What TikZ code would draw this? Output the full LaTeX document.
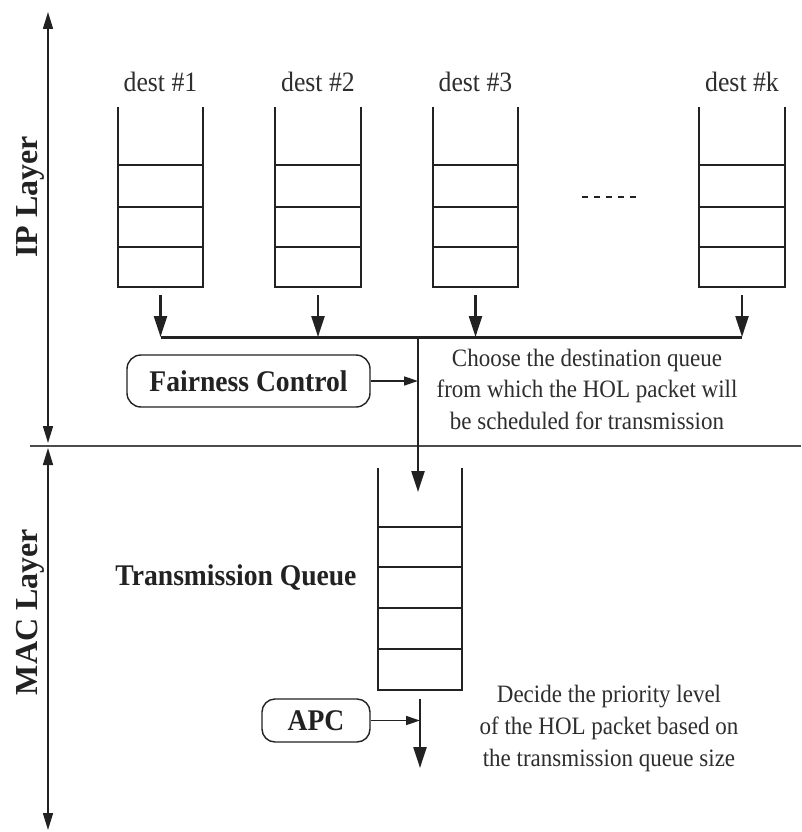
\documentclass[tikz,border=0pt]{standalone}
\usepackage{fontspec}
\setmainfont[FakeStretch=0.92]{Liberation Serif}
\newfontfamily\rotfont{Liberation Serif}
\usetikzlibrary{arrows.meta}
\definecolor{ink}{HTML}{222222}
\definecolor{txt}{HTML}{2e2e2e}
\begin{document}
\begin{tikzpicture}[x=1pt,y=-1pt,
  qbox/.style={minimum width=85pt,minimum height=180pt,inner sep=0pt,draw=none},
  qline/.style={line width=2.3pt,draw=ink},
  flow/.style={line width=2.3pt,draw=ink,-{Triangle[length=21pt,width=13pt]}},
  ctrl/.style={line width=1.4pt,draw=ink,-{Triangle[length=14pt,width=9pt]}},
  bus/.style={line width=3pt,draw=ink},
  ctrlbox/.style={draw=ink,line width=1.4pt,rounded corners=14pt,inner xsep=14pt,inner ysep=6pt,font=\fontsize{30}{34}\selectfont\bfseries,text=ink},
  dlabel/.style={font=\fontsize{28}{32}\selectfont,text=txt},
  note/.style={align=center,font=\fontsize{25}{31.5}\selectfont,text=txt},
  layer/.style={rotate=90,font=\rotfont\fontsize{32}{34}\selectfont\bfseries,text=ink},
  span/.style={line width=1.6pt,draw=ink,{Triangle[length=17pt,width=10pt]}-{Triangle[length=17pt,width=10pt]}}
]
\useasboundingbox (0,0) rectangle (801,832);
\fill[white] (0,0) rectangle (801,832);

% layer spans and separator
\coordinate (ipt) at (48,12);
\coordinate (ipb) at (48,443);
\coordinate (mct) at (48,448);
\coordinate (mcb) at (48,830);
\draw[span] (ipt) -- (ipb);
\draw[span] (mct) -- (mcb);
\coordinate (sepl) at (30,446);
\coordinate (sepr) at (801,446);
\draw[line width=1.6pt,draw=black!70] (sepl) -- (sepr);
\node[layer] (ipl) at (30,197) {IP Layer};
\node[layer] (macl) at (30,612) {MAC Layer};

% destination queues
\foreach \n/\x/\lab in {1/160.5/{dest \#1},2/318/{dest \#2},3/475.5/{dest \#3},k/742/{dest \#k}}{
  \node[qbox] (q\n) at (\x,197) {};
  \draw[qline] (q\n.north west) -- (q\n.south west) -- (q\n.south east) -- (q\n.north east);
  \foreach \yy in {165,207,247}{
    \draw[qline] (q\n.west |- 0,\yy) -- (q\n.east |- 0,\yy);
  }
  \node[dlabel] (l\n) at (\x,82) {\lab};
  \coordinate (s\n) at (\x,295);
  \coordinate (b\n) at (\x,337);
  \draw[flow] (s\n) -- (b\n);
}
\coordinate (d1) at (582,197);
\coordinate (d2) at (638,197);
\draw[line width=2.5pt,draw=ink,dash pattern=on 6pt off 6pt] (d1) -- (d2);

% bus
\draw[bus] (b1) -- (bk);
\coordinate (j) at (418,337);
\coordinate (tqin) at (418,492);
\draw[flow] (j) -- (tqin);

% fairness control
\node[ctrlbox,minimum width=243pt,minimum height=52pt] (fc) at (248.5,381) {Fairness Control};
\draw[ctrl] (fc.east) -- (j |- fc.east);
\node[note] (n1) at (587,389) {Choose the destination queue\\from which the HOL packet will\\be scheduled for transmission};

% transmission queue
\node[qbox,minimum width=84pt,minimum height=222pt] (tq) at (420,579) {};
\draw[qline] (tq.north west) -- (tq.south west) -- (tq.south east) -- (tq.north east);
\foreach \yy in {527,567,608,649}{
  \draw[qline] (tq.west |- 0,\yy) -- (tq.east |- 0,\yy);
}
\node[font=\fontsize{30}{34}\selectfont\bfseries,text=ink] (tql) at (236,578) {Transmission Queue};

% APC
\node[ctrlbox,minimum width=108pt,minimum height=43pt,rounded corners=13pt] (apc) at (316,720.5) {APC};
\coordinate (ot) at (420,699);
\coordinate (ob) at (420,768);
\draw[flow] (ot) -- (ob);
\draw[ctrl] (apc.east) -- (ot |- apc.east);
\node[note,font=\fontsize{25}{32}\selectfont] (n2) at (609,728) {Decide the priority level\\of the HOL packet based on\\the transmission queue size};
\end{tikzpicture}
\end{document}
